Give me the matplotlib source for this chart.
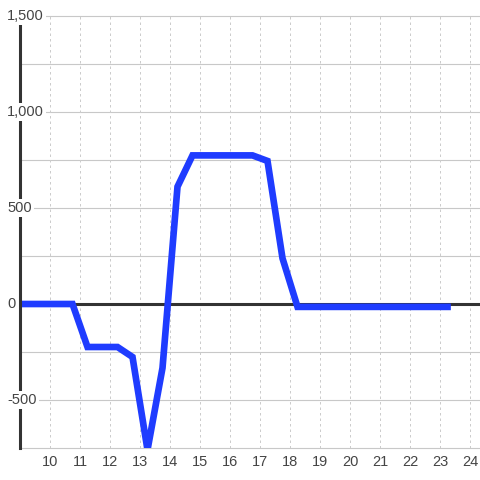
import matplotlib
matplotlib.use("Agg")
import matplotlib.pyplot as plt

# series
x_vals = [8.75, 9.25, 9.75, 10.25, 10.75, 11.25, 11.75, 12.25, 12.75, 13.25,
          13.75, 14.25, 14.75, 15.25, 15.75, 16.25, 16.75, 17.25, 17.75, 18.25,
          18.75, 19.25, 19.75, 20.25, 20.75, 21.25, 21.75, 22.25, 22.75, 23.25]
y_vals = [0, 0, 0, 0, 0, -224, -224, -224, -276, -760,
          -333, 611, 774, 774, 774, 774, 774, 745, 238, -15,
          -15, -15, -15, -15, -15, -15, -15, -15, -15, -15]

x_ticks = list(range(10, 25))
y_label_ticks = [-500, 0, 500, 1000, 1500]
y_grid = [-750, -500, -250, 0, 250, 500, 750, 1000, 1250, 1500]

plt.rcParams['font.family'] = ['Liberation Sans', 'DejaVu Sans']

fig = plt.figure(figsize=(4.8, 4.8), dpi=100)
ax = fig.add_axes([20 / 480, 32 / 480, 460 / 480, 432 / 480])
ax.set_xlim(9, 24.333)
ax.set_ylim(-750, 1500)

# grid lines
for v in y_grid:
    ax.axhline(v, color='#c8c8c8', lw=0.8, zorder=1, clip_on=False)
for v in x_ticks:
    ax.axvline(v, color='#cccccc', lw=0.72, ls=(0, (2.5, 3)), zorder=1)

# zero line
ax.axhline(0, color='#333333', lw=2.2, zorder=2)

ax.plot(x_vals, y_vals, color='#1f3cff', lw=4.8, solid_capstyle='projecting',
        solid_joinstyle='miter', zorder=3)

for s in ['top', 'right', 'bottom']:
    ax.spines[s].set_visible(False)
ax.spines['left'].set_color('#333333')
ax.spines['left'].set_linewidth(2.2)
ax.spines['left'].set_zorder(4)

ax.set_xticks(x_ticks)
ax.set_xticklabels([str(t) for t in x_ticks])
ax.tick_params(axis='x', length=0, pad=5, labelsize=10.5, labelcolor='#444444')
ax.set_yticks([])

# y labels with white boxes over the axis line
trans = ax.get_yaxis_transform()
for v in y_label_ticks:
    ax.text(-13 / 460, v, f"{v:,}", transform=trans, ha='left', va='center',
            fontsize=10.5, color='#444444', zorder=6, clip_on=False,
            bbox=dict(boxstyle='square,pad=0.15', fc='white', ec='none'))

fig.savefig('out.png', dpi=100, facecolor='white')
